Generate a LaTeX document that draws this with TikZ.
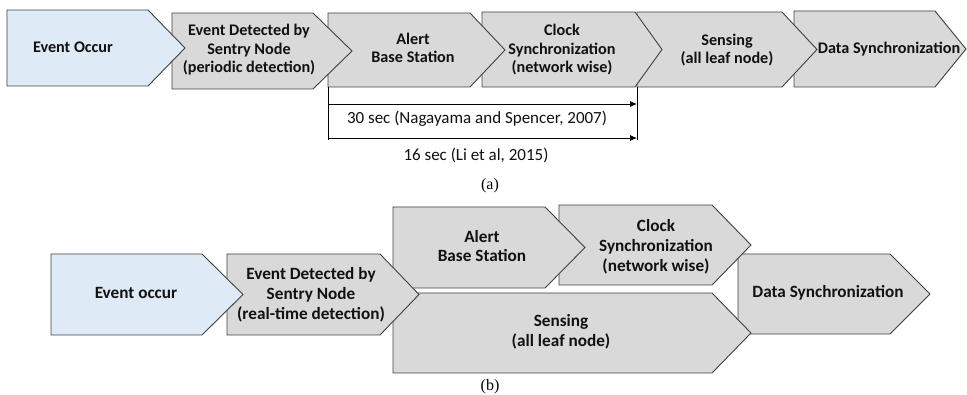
\documentclass[tikz,border=0pt]{standalone}
\usepackage{fontspec}
\setmainfont{Carlito}
\newfontfamily\capfont{Liberation Serif}
\usetikzlibrary{arrows.meta}

\definecolor{stepgray}{HTML}{D9D9D9}
\definecolor{stepblue}{HTML}{DEEBF7}
\definecolor{stepline}{HTML}{404040}
\definecolor{steptext}{HTML}{111111}

% pentagon step outline: #1 left, #2 top, #3 bottom, #4 shoulder, #5 tip, #6 fill
\newcommand\stepshape[6]{%
  \filldraw[draw=stepline, line width=0.9pt, line join=miter, fill=#6]
    (#1,#2) -- (#4,#2) -- (#5,{(#2+#3)/2}) -- (#4,#3) -- (#1,#3) -- cycle;
}

\tikzset{
  lbla/.style={font=\bfseries\fontsize{16.2}{18.5}\selectfont, text=steptext, align=center, inner sep=0pt},
  lblb/.style={font=\bfseries\fontsize{17.2}{19.8}\selectfont, text=steptext, align=center, inner sep=0pt},
  note/.style={font=\fontsize{17}{18}\selectfont, text=steptext, inner sep=0pt},
  caption/.style={font=\capfont\fontsize{16}{18}\selectfont, inner sep=0pt},
  timeline/.style={draw=black, line width=0.8pt, -{Latex[length=7pt,width=6pt]}},
  guide/.style={draw=black, line width=0.8pt}
}

\begin{document}
\begin{tikzpicture}[x=1pt, y=-1pt]
\useasboundingbox (0,0) rectangle (967,395);

% ---------- (a) sequential pipeline, drawn right to left so tips overlap ----------
\stepshape{794}{11}{87}{935}{966}{stepgray}
\stepshape{637}{12}{87}{782}{817}{stepgray}
\stepshape{482}{12}{87}{635}{662}{stepgray}
\stepshape{328}{13}{87}{470}{505}{stepgray}
\stepshape{172}{13}{89}{313}{352}{stepgray}
\stepshape{7}{10}{86}{148}{185}{stepblue}

\node[lbla] (a1) at (73,47) {Event Occur};
\node[lbla] (a2) at (249,50) {Event Detected by\\Sentry Node\\(periodic detection)};
\node[lbla] (a3) at (413,48) {Alert\\Base Station};
\node[lbla] (a4) at (562,50) {Clock\\Synchronization\\(network wise)};
\node[lbla] (a5) at (727,50) {Sensing\\(all leaf node)};
\node[lbla] (a6) at (889,49) {Data Synchronization};

% time span markers under the pipeline
\coordinate (ls) at (328,87);
\coordinate (le) at (328,140);
\coordinate (rs) at (637,87);
\coordinate (re) at (637,140);
\coordinate (t1s) at (328,104);
\coordinate (t1e) at (637,104);
\coordinate (t2s) at (328,138);
\coordinate (t2e) at (637,138);
\draw[guide] (ls) -- (le);
\draw[guide] (rs) -- (re);
\draw[timeline] (t1s) -- (t1e);
\draw[timeline] (t2s) -- (t2e);
\node[note] (n1) at (477,119) {30 sec (Nagayama and Spencer,\ 2007)};
\node[note] (n2) at (476,155) {16 sec (Li et al, 2015)};
\node[caption] (capa) at (490,186) {(a)};

% ---------- (b) parallel pipeline ----------
\stepshape{738}{254}{334}{890}{930}{stepgray}
\stepshape{393}{293}{373}{712}{751}{stepgray}
\stepshape{559}{205}{285}{712}{751}{stepgray}
\stepshape{393}{207}{288}{545}{585}{stepgray}
\stepshape{227}{254}{335}{380}{419}{stepgray}
\stepshape{51}{254}{335}{202}{243}{stepblue}

\node[lblb] (b1) at (136,293) {Event occur};
\node[lblb] (b2) at (311,295) {Event Detected by\\Sentry Node\\(real-time detection)};
\node[lblb] (b3) at (482,246) {Alert\\Base Station};
\node[lblb] (b4) at (656,247) {Clock\\Synchronization\\(network wise)};
\node[lblb] (b5) at (561,332) {Sensing\\(all leaf node)};
\node[lblb] (b6) at (828,293) {Data Synchronization};
\node[caption] (capb) at (490,387) {(b)};
\end{tikzpicture}
\end{document}
